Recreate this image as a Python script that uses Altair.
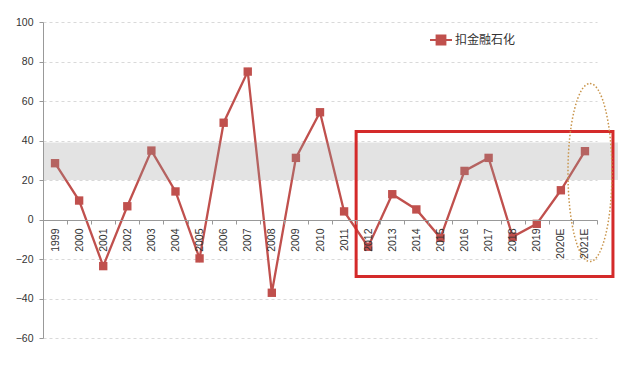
import altair as alt
import pandas as pd

years = ["1999", "2000", "2001", "2002", "2003", "2004", "2005", "2006", "2007",
         "2008", "2009", "2010", "2011", "2012", "2013", "2014", "2015", "2016",
         "2017", "2018", "2019", "2020E", "2021E"]
values = [28.5, 9.6, -23.6, 6.7, 34.9, 14.2, -19.7, 49.0, 74.9, -37.1, 31.2,
          54.3, 4.1, -13.8, 12.8, 5.1, -9.3, 24.6, 31.2, -8.8, -2.2, 14.8, 34.6]
series_name = "扣金融石化"
y_ticks = [-60, -40, -20, 0, 20, 40, 60, 80, 100]

# annotation values (in data units)
band_low, band_high = 20, 39
box_start, box_end, box_top, box_bottom = "2012", "2021E", 44.6, -28.9
ellipse_cat, ellipse_y = "2021E", 23.8

df = pd.DataFrame({"year": years, "value": values, "series": series_name})

RED = "#c0504d"
FONT = "Liberation Sans"

xscale = alt.Scale(domain=years, paddingInner=0, paddingOuter=0)
yscale = alt.Scale(domain=[-60, 100], nice=False, zero=False)

xaxis = alt.Axis(labelAngle=-90, offset=-118, tickBand="extent", tickSize=4,
                 domainColor="#999999", tickColor="#999999", labelColor="#333333",
                 labelFont=FONT, labelFontSize=10.5, labelPadding=4, grid=False,
                 labelOverlap=False, zindex=1, title=None)
yaxis = alt.Axis(values=y_ticks, tickSize=4, labelOverlap=False, tickCount=9,
                 domainColor="#999999", tickColor="#999999", labelColor="#333333",
                 labelFont=FONT, labelFontSize=10.5, labelPadding=6, title=None,
                 grid=True, gridColor="#d9d9d9", gridDash=[3, 3])

legend_path = "M-1,0H-0.4M0.4,0H1M-0.4,-0.4H0.4V0.4H-0.4Z"

line = alt.Chart(df).mark_line(strokeWidth=2.3).encode(
    x=alt.X("year:N", scale=xscale, axis=xaxis),
    y=alt.Y("value:Q", scale=yscale, axis=yaxis),
    color=alt.Color("series:N", scale=alt.Scale(range=[RED]),
                    legend=alt.Legend(title=None, orient="none", legendX=386, legendY=6,
                                      symbolType=legend_path, symbolSize=484,
                                      symbolStrokeWidth=2, symbolFillColor=RED,
                                      labelFont="Noto Sans CJK SC", labelFontSize=12,
                                      labelColor="#333333", labelOffset=2)),
)
points = alt.Chart(df).mark_point(shape="square", filled=True, size=70, opacity=1,
                                  color=RED).encode(
    x=alt.X("year:N", scale=xscale, axis=xaxis),
    y=alt.Y("value:Q", scale=yscale, axis=yaxis),
)

band_df = pd.DataFrame({"a": [years[0]], "b": [years[-1]], "lo": [band_low], "hi": [band_high]})
band = alt.Chart(band_df).mark_rect(color="#999999", opacity=0.27, x2Offset=33).encode(
    x=alt.X("a:N", scale=xscale, bandPosition=0, axis=xaxis),
    x2="b:N",
    y=alt.Y("hi:Q", scale=yscale, axis=yaxis),
    y2="lo:Q",
)

box_df = pd.DataFrame({"a": [box_start], "b": [box_end], "t": [box_top], "bt": [box_bottom]})
box = alt.Chart(box_df).mark_rect(filled=False, stroke="#d42a2a", strokeWidth=3,
                                  x2Offset=28, clip=False).encode(
    x=alt.X("a:N", scale=xscale, bandPosition=0, axis=xaxis),
    x2="b:N",
    y=alt.Y("t:Q", scale=yscale, axis=yaxis),
    y2="bt:Q",
)

a, k = 0.247, 0.5523
ak = a * k
ellipse_path = (f"M0,-1 C{ak},-1 {a},-{k} {a},0 C{a},{k} {ak},1 0,1 "
                f"C-{ak},1 -{a},{k} -{a},0 C-{a},-{k} -{ak},-1 0,-1 Z")
ell_df = pd.DataFrame({"c": [ellipse_cat], "v": [ellipse_y]})
ellipse = alt.Chart(ell_df).mark_point(shape=ellipse_path, size=31684, filled=False,
                                       stroke="#c8944a", strokeWidth=1.5,
                                       strokeDash=[1.5, 2], xOffset=5, opacity=1).encode(
    x=alt.X("c:N", scale=xscale, axis=xaxis),
    y=alt.Y("v:Q", scale=yscale, axis=yaxis),
)

chart = alt.layer(line, points, band, box, ellipse).properties(
    width=554, height=316,
    padding={"left": 43, "top": 22, "right": 21, "bottom": 28},
    autosize=alt.AutoSizeParams(type="none"),
    background="white",
).configure_view(stroke=None)

chart.save("out.html", embed_options={"renderer": "svg", "actions": False})
